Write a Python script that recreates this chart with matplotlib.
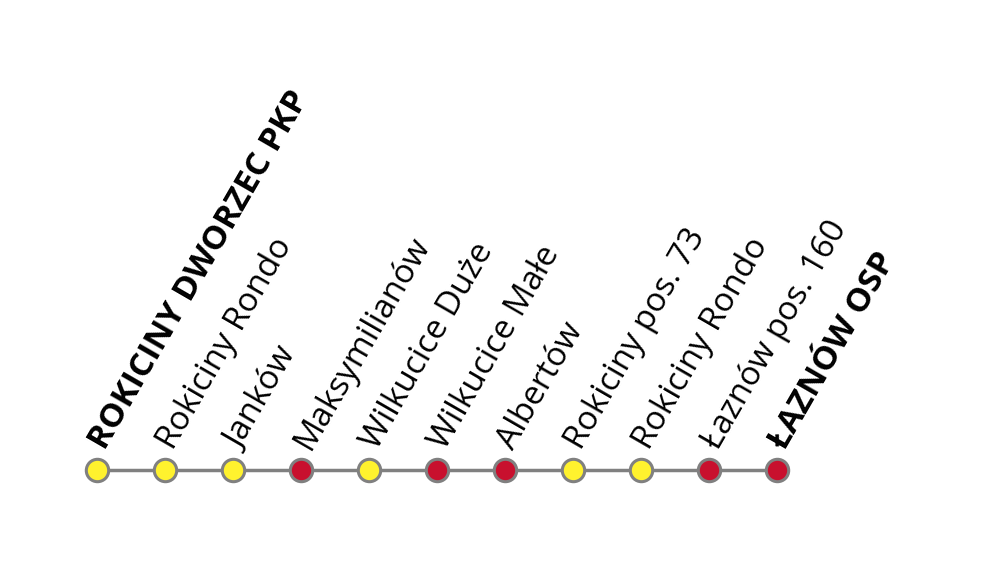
import matplotlib
matplotlib.use("Agg")
import matplotlib.pyplot as plt

stops = ["ROKICINY DWORZEC PKP", "Rokiciny Rondo", "Janków", "Maksymilianów",
         "Wilkucice Duże", "Wilkucice Małe", "Albertów", "Rokiciny pos. 73",
         "Rokiciny Rondo", "Łaznów pos. 160", "ŁAZNÓW OSP"]
kinds = ["y", "y", "y", "r", "y", "r", "r", "y", "y", "r", "r"]
bold = [True] + [False]*9 + [True]
colors = {"y": "#FFF22E", "r": "#C8102E"}

fig = plt.figure(figsize=(9.9, 5.64), dpi=100)
ax = fig.add_axes([0, 0, 1, 1])
ax.set_xlim(0, 990)
ax.set_ylim(564, 0)
ax.axis("off")

xs = [97 + 68*i for i in range(len(stops))]
y = 470
ax.plot(xs, [y]*len(xs), color="#808080", lw=2.5, zorder=1)
for x, k in zip(xs, kinds):
    ax.scatter([x], [y], s=260, color=colors[k], edgecolor="#808080", linewidth=2.2, zorder=2)
for x, s, b in zip(xs, stops, bold):
    ax.text(x + 1, y - 23, s, rotation=60, rotation_mode="anchor", ha="left", va="center",
            fontsize=24, fontweight="bold" if b else "normal", family="Open Sans", color="black")

fig.savefig("out.png", dpi=100)
